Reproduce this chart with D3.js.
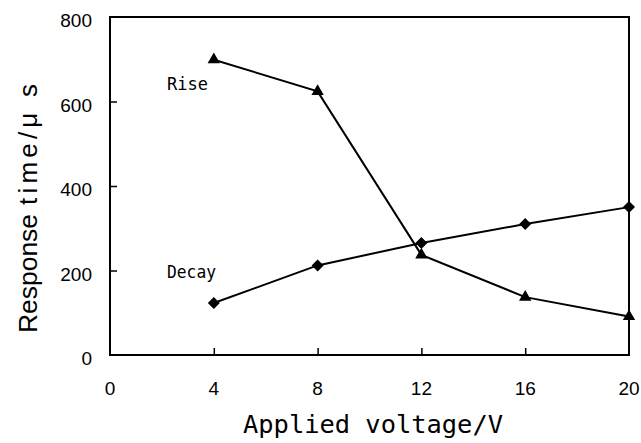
<!DOCTYPE html>
<html>
<head>
<meta charset="utf-8">
<script src="https://cdn.jsdelivr.net/npm/d3@7"></script>
<style>
  body { margin: 0; background: #fff; }
  svg { display: block; }
</style>
</head>
<body>
<svg id="chart"></svg>
<script>
const voltages = [4, 8, 12, 16, 20]
const riseTimes = [699, 624, 237, 137, 91]
const decayTimes = [123, 212, 265, 310, 350]
const xTicks = [0, 4, 8, 12, 16, 20]
const yTicks = [0, 200, 400, 600, 800]

const dims = {
	width: 641,
	height: 443,
	margin: {top: 17, left: 110, right: 12, bottom: 88}
}

const svg = d3.select("#chart")
	.attr("width", dims.width)
	.attr("height", dims.height)

const x = d3.scaleLinear()
	.domain([0, 20])
	.range([dims.margin.left, dims.width - dims.margin.right])

const y = d3.scaleLinear()
	.domain([0, 800])
	.range([dims.height - dims.margin.bottom, dims.margin.top])

const tickFont = "'Liberation Sans', Arial, sans-serif"
const gothic = "'DejaVu Sans Mono', monospace"

// inner ticks (pointing into the plot)
const xAxis = svg.append("g")
	.attr("transform", `translate(0,${y(0)})`)
	.call(d3.axisTop(x).tickValues(xTicks.filter(d => d > 0 && d < 20)).tickSize(7).tickFormat(""))
xAxis.select(".domain").remove()
xAxis.selectAll("line").attr("stroke", "#000").attr("stroke-width", 1.5)

const yAxis = svg.append("g")
	.attr("transform", `translate(${x(0)},0)`)
	.call(d3.axisRight(y).tickValues(yTicks.filter(d => d > 0 && d < 800)).tickSize(7).tickFormat(""))
yAxis.select(".domain").remove()
yAxis.selectAll("line").attr("stroke", "#000").attr("stroke-width", 1.5)

// frame
svg.append("rect")
	.attr("x", x(0))
	.attr("y", y(800))
	.attr("width", x(20) - x(0))
	.attr("height", y(0) - y(800))
	.attr("fill", "none")
	.attr("stroke", "#000")
	.attr("stroke-width", 2)

// tick labels
svg.append("g").selectAll("text")
	.data(xTicks)
	.join("text")
		.attr("x", d => x(d))
		.attr("y", y(0) + 40)
		.attr("text-anchor", "middle")
		.attr("font-family", tickFont)
		.attr("font-size", 19)
		.text(d => d)

svg.append("g").selectAll("text")
	.data(yTicks)
	.join("text")
		.attr("x", x(0) - 18)
		.attr("y", d => y(d) + 10)
		.attr("text-anchor", "end")
		.attr("font-family", tickFont)
		.attr("font-size", 19)
		.text(d => d)

// series
const line = d3.line()
	.x(d => x(d[0]))
	.y(d => y(d[1]))

const riseData = d3.zip(voltages, riseTimes)
const decayData = d3.zip(voltages, decayTimes)

svg.append("path")
	.datum(riseData)
	.attr("d", line)
	.attr("fill", "none")
	.attr("stroke", "#000")
	.attr("stroke-width", 2)

svg.append("path")
	.datum(decayData)
	.attr("d", line)
	.attr("fill", "none")
	.attr("stroke", "#000")
	.attr("stroke-width", 2)

svg.append("g").selectAll("path")
	.data(riseData)
	.join("path")
		.attr("transform", d => `translate(${x(d[0])},${y(d[1])})`)
		.attr("d", d3.symbol(d3.symbolTriangle, 66))
		.attr("fill", "#000")

svg.append("g").selectAll("path")
	.data(decayData)
	.join("path")
		.attr("transform", d => `translate(${x(d[0])},${y(d[1])}) rotate(45)`)
		.attr("d", d3.symbol(d3.symbolSquare, 72))
		.attr("fill", "#000")

// series labels
svg.append("text")
	.attr("x", 167)
	.attr("y", 90)
	.attr("font-family", gothic)
	.attr("font-size", 17)
	.attr("textLength", 41)
	.attr("lengthAdjust", "spacingAndGlyphs")
	.text("Rise")

svg.append("text")
	.attr("x", 167)
	.attr("y", 278)
	.attr("font-family", gothic)
	.attr("font-size", 17)
	.attr("textLength", 49)
	.attr("lengthAdjust", "spacingAndGlyphs")
	.text("Decay")

// axis titles
svg.append("text")
	.attr("x", 243)
	.attr("y", 433)
	.attr("font-family", gothic)
	.attr("font-size", 25)
	.attr("textLength", 260)
	.attr("lengthAdjust", "spacingAndGlyphs")
	.text("Applied voltage/V")

svg.append("text")
	.attr("transform", "translate(37,333) rotate(-90)")
	.attr("font-family", tickFont)
	.attr("font-size", 26)
	.attr("textLength", 119)
	.attr("lengthAdjust", "spacingAndGlyphs")
	.text("Response")

svg.append("text")
	.attr("transform", "translate(37,205) rotate(-90)")
	.attr("font-family", tickFont)
	.attr("font-size", 26)
	.attr("textLength", 121)
	.attr("lengthAdjust", "spacing")
	.text("time/μ s")
</script>
</body>
</html>
